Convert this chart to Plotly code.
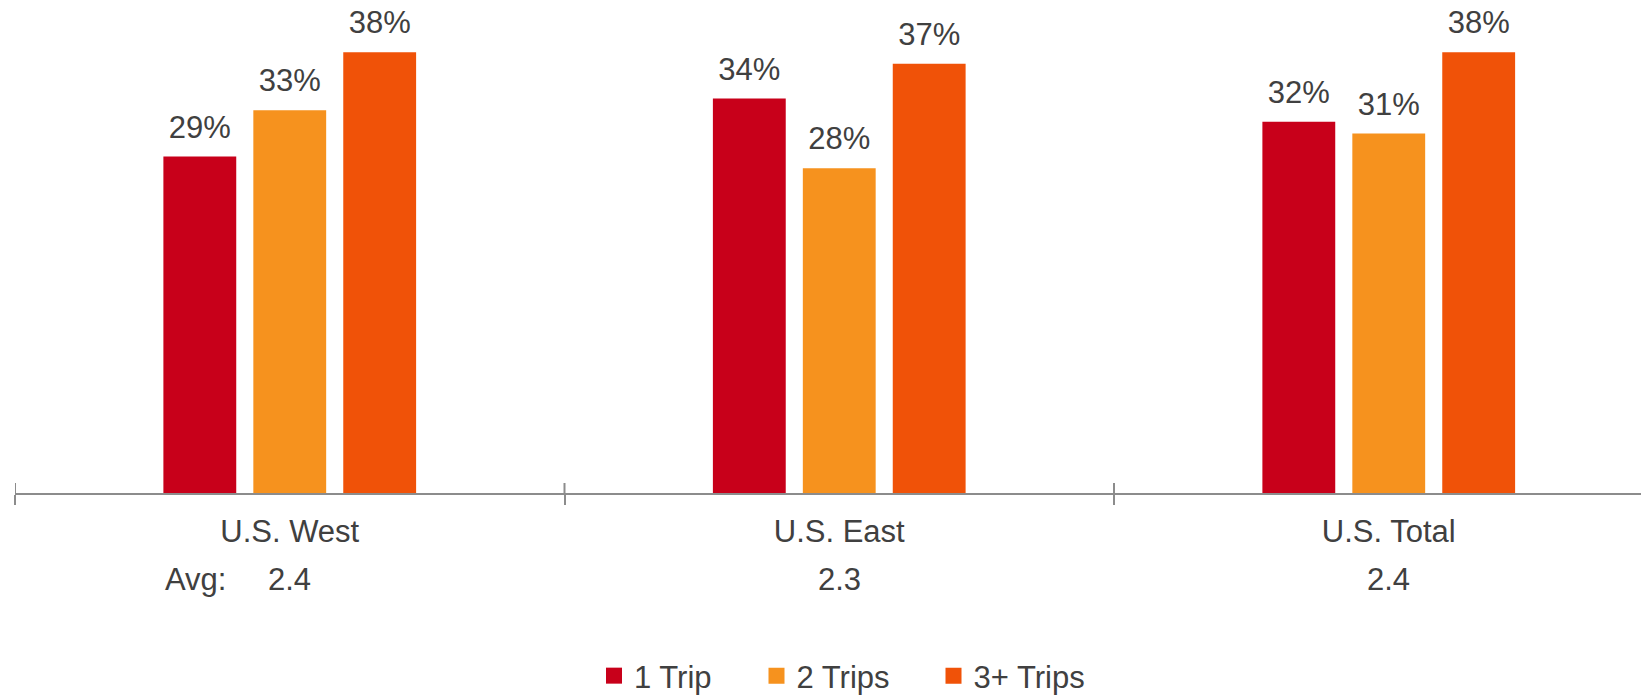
import plotly.graph_objects as go

# Share of travellers by number of trips, per region
regions = ["U.S. West", "U.S. East", "U.S. Total"]
trip_groups = ["1 Trip", "2 Trips", "3+ Trips"]
one_trip = [29, 34, 32]
two_trips = [33, 28, 31]
three_plus = [38, 37, 38]
avg_trips = [2.4, 2.3, 2.4]

series = [one_trip, two_trips, three_plus]
colors = ["#C8001A", "#F6921E", "#F05208"]
text_color = "#404040"
axis_color = "#8C8C8C"
font_family = "Liberation Sans, Arial, sans-serif"
font_size = 31

W, H = 1641, 696
m_l, m_r, m_t, m_b = 15, 0, 0, 203
plot_w = W - m_l - m_r
plot_h = H - m_t - m_b
cat_px = 549.5      # width of one category slot in pixels
px_per_pct = 11.6   # vertical scale
bar_gap = 0.509


def paper_y(px):
    """Convert a page pixel row to a paper y coordinate."""
    return (m_t + plot_h - px) / plot_h


fig = go.Figure()

for i, (name, vals, col) in enumerate(zip(trip_groups, series, colors)):
    fig.add_trace(go.Bar(
        x=regions, y=vals, name=name, offsetgroup=f"g{i}",
        marker=dict(color=col, line=dict(width=0)),
        showlegend=False, hoverinfo="x+y",
    ))

# value labels above each bar, grouped the same way as the bars
for i, (name, vals) in enumerate(zip(trip_groups, series)):
    fig.add_trace(go.Scatter(
        x=regions, y=vals, mode="markers+text", offsetgroup=f"g{i}",
        text=[f"{v}%" for v in vals], textposition="top center",
        textfont=dict(size=font_size, color=text_color, family=font_family),
        marker=dict(size=16, opacity=0),
        cliponaxis=False, showlegend=False, hoverinfo="skip",
    ))

# Legend entries, one legend box per series so each can be placed freely
legend_left_px = [594, 756.5, 933.5]
for i, (name, col) in enumerate(zip(trip_groups, colors)):
    lg = "legend" if i == 0 else f"legend{i + 1}"
    fig.add_trace(go.Scatter(
        x=[None], y=[None], mode="markers", name=name, offsetgroup=f"g{i}",
        marker=dict(symbol="square", size=16, color=col),
        legend=lg, showlegend=True, hoverinfo="skip",
    ))

x_max = -0.5 + plot_w / cat_px
y_max = plot_h / px_per_pct

# tick marks crossing the axis line at category boundaries (upper halves)
shapes = []
for k in range(len(regions)):
    shapes.append(dict(type="line", xref="x", yref="paper",
                       x0=k - 0.5, x1=k - 0.5, y0=0, y1=10 / plot_h,
                       line=dict(color=axis_color, width=2)))

annotations = []
for k, a in enumerate(avg_trips):
    annotations.append(dict(
        x=k, y=paper_y(579), xref="x", yref="paper",
        text=f"{a}", showarrow=False, xanchor="center", yanchor="middle",
        font=dict(size=font_size, color=text_color, family=font_family),
    ))
annotations.append(dict(
    x=(163 - m_l) / plot_w, y=paper_y(579),
    xref="paper", yref="paper", text="Avg:", showarrow=False,
    xanchor="left", yanchor="middle",
    font=dict(size=font_size, color=text_color, family=font_family),
))

legend_common = dict(
    orientation="h", yanchor="bottom", xanchor="left",
    y=paper_y(703),
    font=dict(size=font_size, color=text_color, family=font_family),
    bgcolor="rgba(0,0,0,0)", borderwidth=0, itemsizing="trace",
)

fig.update_layout(
    width=W, height=H,
    margin=dict(l=m_l, r=m_r, t=m_t, b=m_b, autoexpand=False),
    paper_bgcolor="white", plot_bgcolor="white",
    barmode="group", bargap=bar_gap, bargroupgap=0.19,
    scattermode="group", scattergap=bar_gap,
    font=dict(family=font_family, color=text_color, size=font_size),
    xaxis=dict(
        type="category", range=[-0.5, x_max], automargin=False,
        showline=True, linecolor=axis_color, linewidth=2,
        ticks="outside", tickson="boundaries", ticklen=10,
        tickcolor=axis_color, tickwidth=2, ticklabelstandoff=10,
        tickfont=dict(size=font_size, color=text_color, family=font_family),
        showgrid=False, zeroline=False,
    ),
    yaxis=dict(range=[0, y_max], visible=False, showgrid=False,
               zeroline=False, automargin=False),
    shapes=shapes,
    annotations=annotations,
    legend=dict(x=(legend_left_px[0] - m_l) / plot_w, **legend_common),
    legend2=dict(x=(legend_left_px[1] - m_l) / plot_w, **legend_common),
    legend3=dict(x=(legend_left_px[2] - m_l) / plot_w, **legend_common),
    showlegend=True,
)

fig.write_html("out.html")
